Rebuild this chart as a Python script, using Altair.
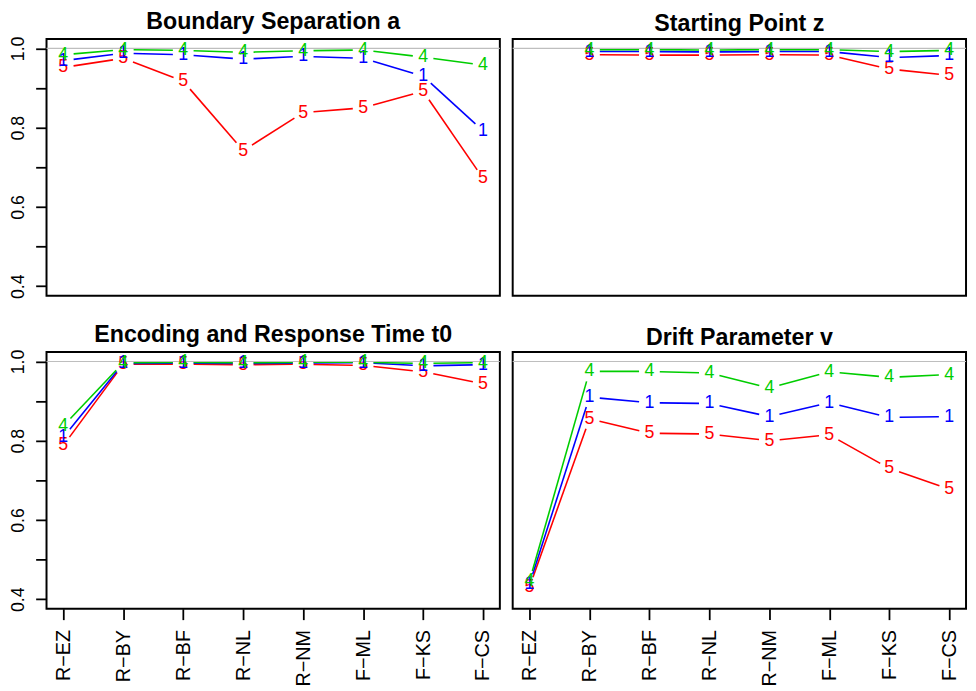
import math
import altair as alt
import pandas as pd

methods = ["R−EZ", "R−BY", "R−BF", "R−NL", "R−NM", "F−ML", "F−KS", "F−CS"]
series = ["5", "1", "4"]  # drawing order
series_colors = ["#FF0000", "#0000FF", "#00CD00"]

# Boundary Separation a
a_4 = [0.984, 0.997, 0.995, 0.990, 0.994, 0.996, 0.978, 0.958]
a_1 = [0.969, 0.988, 0.984, 0.973, 0.980, 0.975, 0.930, 0.792]
a_5 = [0.952, 0.975, 0.917, 0.742, 0.838, 0.850, 0.892, 0.672]

# Starting Point z (no value for R-EZ)
z_4 = [None, 0.997, 0.997, 0.996, 0.997, 0.997, 0.992, 0.995]
z_1 = [None, 0.992, 0.992, 0.991, 0.992, 0.992, 0.977, 0.982]
z_5 = [None, 0.984, 0.983, 0.983, 0.984, 0.983, 0.948, 0.932]

# Encoding and Response Time t0
t_4 = [0.837, 0.997, 0.998, 0.997, 0.998, 0.998, 0.995, 0.997]
t_1 = [0.809, 0.995, 0.996, 0.995, 0.996, 0.997, 0.989, 0.992]
t_5 = [0.788, 0.993, 0.993, 0.992, 0.993, 0.990, 0.974, 0.944]

# Drift Parameter v
v_4 = [0.446, 0.975, 0.975, 0.971, 0.933, 0.974, 0.960, 0.967]
v_1 = [0.438, 0.910, 0.896, 0.894, 0.861, 0.896, 0.859, 0.861]
v_5 = [0.431, 0.855, 0.819, 0.817, 0.800, 0.815, 0.730, 0.678]

FONT = "Liberation Sans"
W, H = 459, 260
XDOM = [0.72, 8.28]
YDOM = [0.376, 1.024]
GAP = 10.5  # px gap around each plotted character (R type = "b")


def make_points(v4, v1, v5):
    rows = []
    for s, vals in (("5", v5), ("1", v1), ("4", v4)):
        for i, v in enumerate(vals):
            if v is not None:
                rows.append({"x": i + 1, "v": v, "s": s})
    return pd.DataFrame(rows)


def make_segments(v4, v1, v5):
    # line pieces between consecutive points, shortened at both ends like R's type="b"
    sx = W / (XDOM[1] - XDOM[0])
    sy = H / (YDOM[1] - YDOM[0])
    rows = []
    for s, vals in (("5", v5), ("1", v1), ("4", v4)):
        for i in range(len(vals) - 1):
            a, b = vals[i], vals[i + 1]
            if a is None or b is None:
                continue
            dx = 1 * sx
            dy = (b - a) * sy
            L = math.hypot(dx, dy)
            if L <= 2 * GAP:
                continue
            f = GAP / L
            x1 = (i + 1) + f * 1
            x2 = (i + 2) - f * 1
            y1 = a + f * (b - a)
            y2 = b - f * (b - a)
            rows.append({"x": x1, "x2": x2, "v": y1, "v2": y2, "s": s})
    return pd.DataFrame(rows)


label_expr = "[" + ",".join("'" + m + "'" for m in methods) + "][datum.value - 1]"


def panel(vals, title, show_x, show_y):
    pts = make_points(*vals)
    segs = make_segments(*vals)
    xscale = alt.Scale(domain=XDOM, nice=False, zero=False)
    yscale = alt.Scale(domain=YDOM, nice=False, zero=False)
    if show_x:
        xaxis = alt.Axis(values=list(range(1, 9)), labelExpr=label_expr, labelAngle=270,
                         labelAlign="right", labelBaseline="middle", tickSize=11,
                         tickWidth=1.8, tickColor="black", labelPadding=10,
                         labelFontSize=20, labelFont=FONT, labelColor="black",
                         grid=False, domain=False, title=None)
    else:
        xaxis = None
    if show_y:
        yaxis = alt.Axis(values=[0.4, 0.5, 0.6, 0.7, 0.8, 0.9, 1.0],
                         labelExpr="(round(datum.value*10) % 2 == 0) ? format(datum.value, '.1f') : ''",
                         labelAngle=270, labelAlign="center", labelBaseline="bottom",
                         tickSize=11, tickWidth=1.8, tickColor="black", labelPadding=8,
                         labelFontSize=18, labelFont=FONT, labelColor="black",
                         grid=False, domain=False, title=None)
    else:
        yaxis = None
    X = alt.X("x:Q", scale=xscale, axis=xaxis)
    Y = alt.Y("v:Q", scale=yscale, axis=yaxis)
    col = alt.Color("s:N", scale=alt.Scale(domain=series, range=series_colors), legend=None)
    lines = alt.Chart(segs).mark_rule(strokeWidth=1.6).encode(
        x=X, x2="x2:Q", y=Y, y2="v2:Q", color=col)
    ref = alt.Chart(pd.DataFrame({"v": [1.0]})).mark_rule(color="#BEBEBE", strokeWidth=1.2).encode(
        y=alt.Y("v:Q", scale=yscale, axis=yaxis))
    txt = alt.Chart(pts).mark_text(fontSize=18, font=FONT, baseline="middle").encode(
        x=X, y=Y, text="s:N", color=col)
    return alt.layer(lines, ref, txt).properties(
        width=W, height=H,
        title=alt.TitleParams(title, fontSize=23.5, fontWeight="bold", font=FONT,
                              color="black", anchor="middle", offset=3, frame="group"))


pa = panel((a_4, a_1, a_5), "Boundary Separation a", False, True)
pz = panel((z_4, z_1, z_5), "Starting Point z", False, False)
pt = panel((t_4, t_1, t_5), "Encoding and Response Time t0", True, True)
pv = panel((v_4, v_1, v_5), "Drift Parameter v", True, False)

chart = alt.vconcat(
    alt.hconcat(pa, pz, spacing=9),
    alt.hconcat(pt, pv, spacing=9),
    spacing=22,
).properties(padding={"top": -4, "left": 0, "right": 0, "bottom": 0},
             background="white").configure_view(
    stroke="black", strokeWidth=2
)

chart.save("out.html", embed_options={"renderer": "svg", "actions": False})
